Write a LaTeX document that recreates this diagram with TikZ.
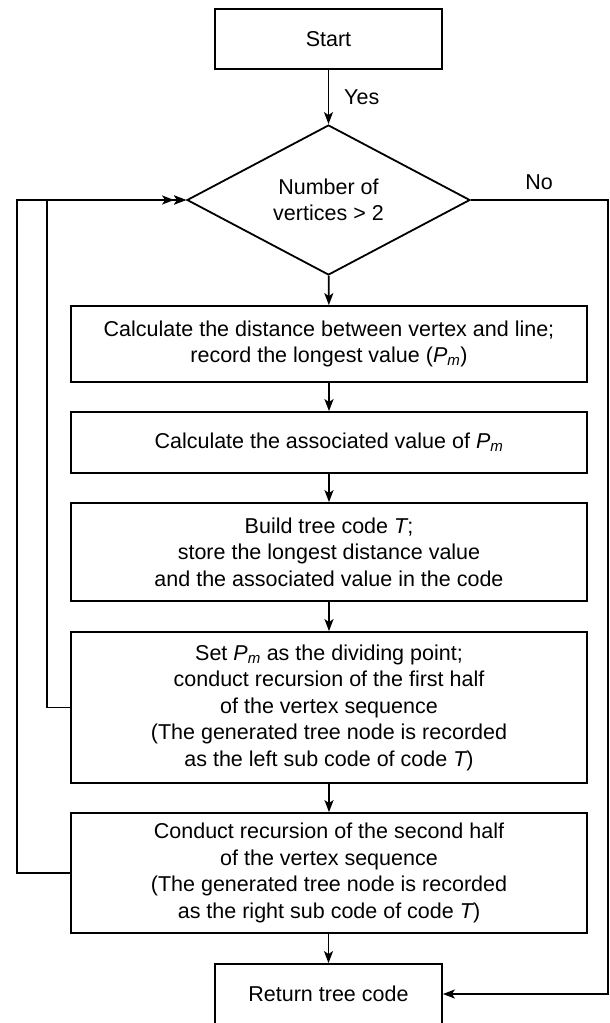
\documentclass[tikz,border=0pt]{standalone}
\usepackage{fontspec}
\setmainfont{Liberation Sans}
\usetikzlibrary{shapes.geometric,arrows.meta}
\tikzset{
  every node/.style={font=\fontsize{21.5pt}{26.5pt}\selectfont},
  boxnode/.style={draw, line width=1.8pt, rectangle, inner sep=0pt, align=center},
  wide/.style={boxnode, minimum width=516pt},
  dianode/.style={draw, line width=1.8pt, diamond, aspect=1.887, minimum width=283pt, minimum height=150pt, inner sep=0pt, align=center},
  conn/.style={line width=1.8pt, -{Stealth[length=12pt,width=9pt,inset=3pt]}},
  dconn/.style={line width=1.8pt, -{Stealth[length=12pt,width=9pt,inset=3pt]Stealth[length=12pt,width=9pt,inset=3pt]}},
  lbl/.style={inner sep=0pt}
}
\newcommand{\Pm}{{\itshape P}\textsubscript{\itshape m}}
\begin{document}
\begin{tikzpicture}[x=1pt,y=-1pt]
\useasboundingbox (0,0) rectangle (610,1023);
\node[boxnode, minimum width=227pt, minimum height=60pt] (start) at (328.5,39) {Start};
\node[dianode] (dia) at (328.5,200) {Number of\\vertices \textgreater{} 2};
\node[wide, minimum height=76pt] (b1) at (329,344) {Calculate the distance between vertex and line;\\record the longest value (\Pm)};
\node[wide, minimum height=61pt] (b2) at (329,442.5) {Calculate the associated value of \Pm};
\node[wide, minimum height=98pt] (b3) at (329,552) {Build tree code {\itshape T};\\store the longest distance value\\and the associated value in the code};
\node[wide, minimum height=151pt] (b4) at (329,707.5) {Set \Pm\ as the dividing point;\\conduct recursion of the first half\\of the vertex sequence\\(The generated tree node is recorded\\as the left sub code of code {\itshape T})};
\node[wide, minimum height=120pt] (b5) at (329,873) {Conduct recursion of the second half\\of the vertex sequence\\(The generated tree node is recorded\\as the right sub code of code {\itshape T})};
\node[boxnode, minimum width=227pt, minimum height=60pt] (ret) at (328.5,994) {Return tree code};
\node[lbl, anchor=west] (yes) at (344,97) {Yes};
\node[lbl] (no) at (539,182) {No};
\draw[conn] (start) -- (dia);
\draw[conn] (dia) -- (b1);
\draw[conn] (b1) -- (b2);
\draw[conn] (b2) -- (b3);
\draw[conn] (b3) -- (b4);
\draw[conn] (b4) -- (b5);
\draw[conn] (b5.south -| ret) -- (ret);
\coordinate (rc) at (608,200);
\draw[conn] (dia.east) -- (rc) |- (ret.east);
\draw[conn] (b4.west) -- ++(-23,0) |- (dia.west);
\draw[dconn] (b5.west) -- ++(-53,0) |- (dia.west);
\end{tikzpicture}
\end{document}
